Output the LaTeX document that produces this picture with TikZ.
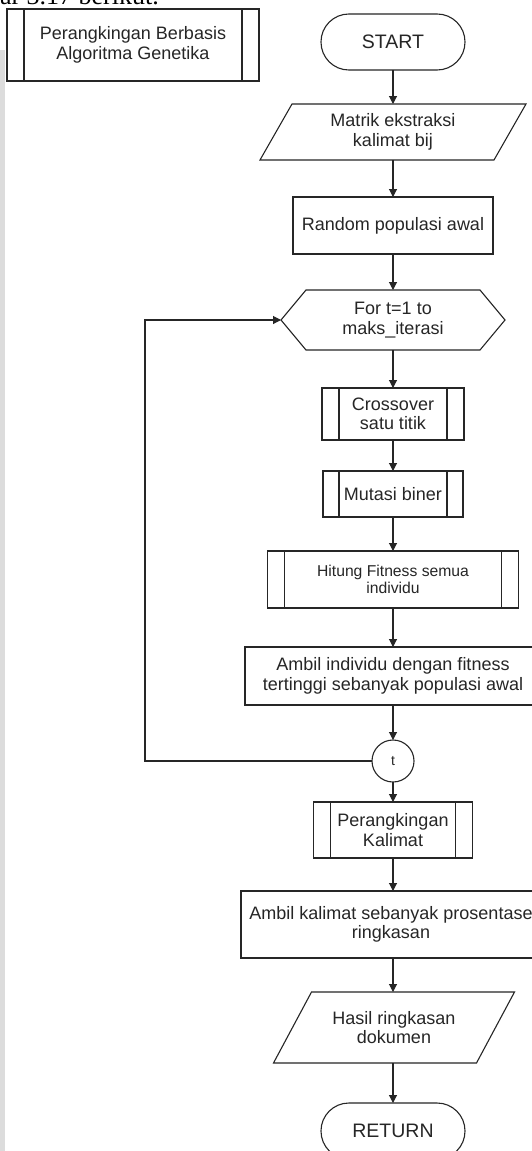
\documentclass[tikz,border=0pt]{standalone}
\usepackage{fontspec}
\setmainfont{Liberation Sans}
\newfontfamily\pageserif{Liberation Serif}
\usetikzlibrary{arrows.meta}
\definecolor{ink}{HTML}{262626}
\definecolor{margingray}{HTML}{DCDCDC}
% vertical bars of a predefined-process box
\newcommand\innerbars[2]{%
  \draw[outline] ([xshift=#2]#1.north west) -- ([xshift=#2]#1.south west)
                 ([xshift=-#2]#1.north east) -- ([xshift=-#2]#1.south east);}
\begin{document}
\begin{tikzpicture}[x=1pt,y=-1pt,
  every node/.style={inner sep=0pt, outer sep=0pt, align=center, text=ink,
                     font=\fontsize{18}{19.5}\selectfont},
  outline/.style={draw=ink, line width=1.1pt},
  plainbox/.style={rectangle, outline},
  shell/.style={rectangle},
  terminal/.style={rectangle, outline, rounded corners=27.9pt,
                   minimum width=144pt, minimum height=56pt,
                   font=\fontsize{19.5}{21}\selectfont},
  flow/.style={outline, -{Triangle[width=8pt,length=8pt]}}]
\useasboundingbox (0,0) rectangle (532,1151);
\clip (0,0) rectangle (532,1151);
\fill[white] (0,0) rectangle (532,1151);
\fill[margingray] (0,50) rectangle (5,1151);

% running text of the page above the chart
\node[anchor=base west, text=black, font=\pageserif\fontsize{26}{28}\selectfont]
  (header) at (0,5) {ar 3.17 berikut.};

% title block
\node[plainbox, minimum width=252pt, minimum height=72pt] (title) at (133,45)
  {Perangkingan Berbasis\\Algoritma Genetika};
\innerbars{title}{17pt}

% main column
\node[terminal] (start) at (393,42) {START};

\node[shell, minimum width=234pt, minimum height=56pt] (matrik) at (393,132)
  {Matrik ekstraksi\\kalimat bij};
\draw[outline] ([xshift=-16pt]matrik.south west) -- ([xshift=16pt]matrik.north west)
  -- ([xshift=16pt]matrik.north east) -- ([xshift=-16pt]matrik.south east) -- cycle;

\node[plainbox, minimum width=200pt, minimum height=57pt] (random) at (393,225.5)
  {Random populasi awal};

\node[shell, minimum width=224pt, minimum height=60pt] (loophead) at (393,320)
  {For t=1 to\\maks\_iterasi};
\draw[outline] (loophead.west) -- ([xshift=25pt]loophead.north west)
  -- ([xshift=-25pt]loophead.north east) -- (loophead.east)
  -- ([xshift=-25pt]loophead.south east) -- ([xshift=25pt]loophead.south west) -- cycle;

\node[plainbox, minimum width=142pt, minimum height=52pt] (cross) at (393,414)
  {Crossover\\satu titik};
\innerbars{cross}{17pt}

\node[plainbox, minimum width=140pt, minimum height=46pt] (mutasi) at (393,494)
  {Mutasi biner};
\innerbars{mutasi}{16pt}

\node[plainbox, minimum width=251pt, minimum height=57pt,
      font=\fontsize{15.7}{17}\selectfont] (fitness) at (393,579.5)
  {Hitung Fitness semua\\individu};
\innerbars{fitness}{17pt}

\node[plainbox, minimum width=296pt, minimum height=58pt] (select) at (393,676)
  {Ambil individu dengan fitness\\tertinggi sebanyak populasi awal};

\node[circle, outline, minimum size=42pt, font=\fontsize{14}{15}\selectfont]
  (tend) at (393,761) {t};

\node[plainbox, minimum width=159pt, minimum height=56pt] (rank) at (393,830)
  {Perangkingan\\Kalimat};
\innerbars{rank}{17pt}

\node[plainbox, minimum width=300pt, minimum height=67pt] (take) at (391,924.5)
  {Ambil kalimat sebanyak prosentase\\ringkasan};

\node[shell, minimum width=203pt, minimum height=71pt] (result) at (394,1027.5)
  {Hasil ringkasan\\dokumen};
\draw[outline] ([xshift=-19pt]result.south west) -- ([xshift=19pt]result.north west)
  -- ([xshift=19pt]result.north east) -- ([xshift=-19pt]result.south east) -- cycle;

\node[terminal] (ret) at (393,1131) {RETURN};

% connectors
\draw[flow] (start.south) -- (matrik.north);
\draw[flow] (matrik.south) -- (random.north);
\draw[flow] (random.south) -- (loophead.north);
\draw[flow] (loophead.south) -- (cross.north);
\draw[flow] (cross.south) -- (mutasi.north);
\draw[flow] (mutasi.south) -- (fitness.north);
\draw[flow] (fitness.south) -- (select.north);
\draw[flow] (select.south) -- (tend.north);
\draw[flow] (tend.south) -- (rank.north);
\draw[flow] (rank.south) -- (rank.south |- take.north);
\draw[flow] (rank.south |- take.south) -- (rank.south |- result.north);
\draw[flow] (rank.south |- result.south) -- (ret.north);

\coordinate (loopback) at (145,761);
\draw[flow] (tend.west) -- (loopback) |- (loophead.west);
\end{tikzpicture}
\end{document}
